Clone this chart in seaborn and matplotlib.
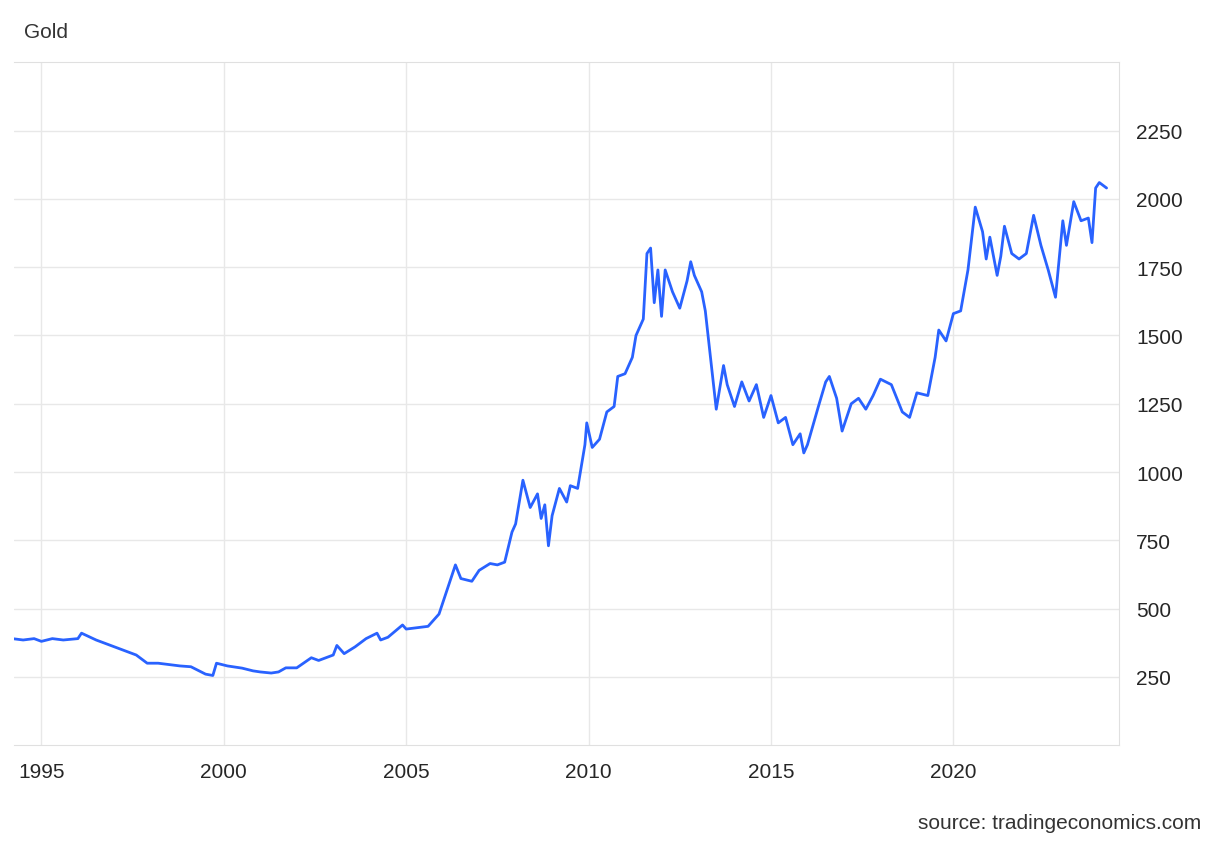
import numpy as np
import pandas as pd
import matplotlib
matplotlib.use("Agg")
import matplotlib.pyplot as plt
import seaborn as sns

# decimal year and gold price (USD/oz)
years = [1994.2, 1994.5, 1994.8, 1995.0, 1995.3, 1995.6, 1996.0, 1996.1, 1996.5, 1997.0,
         1997.3, 1997.6, 1997.9, 1998.2, 1998.5, 1998.8, 1999.1, 1999.5, 1999.7, 1999.8,
         2000.1, 2000.5, 2000.8, 2001.0, 2001.3, 2001.5, 2001.7, 2002.0, 2002.4, 2002.6,
         2003.0, 2003.1, 2003.3, 2003.6, 2003.9, 2004.2, 2004.3, 2004.5, 2004.9, 2005.0,
         2005.3, 2005.6, 2005.9, 2006.1, 2006.35, 2006.5, 2006.8, 2007.0, 2007.3, 2007.5,
         2007.7, 2007.9, 2008.0, 2008.2, 2008.4, 2008.6, 2008.7, 2008.8, 2008.9, 2009.0,
         2009.2, 2009.4, 2009.5, 2009.7, 2009.9, 2009.95, 2010.1, 2010.3, 2010.5, 2010.7,
         2010.8, 2011.0, 2011.2, 2011.3, 2011.5, 2011.6, 2011.7, 2011.8, 2011.9, 2012.0,
         2012.1, 2012.3, 2012.5, 2012.7, 2012.8, 2012.9, 2013.1, 2013.2, 2013.3, 2013.5,
         2013.7, 2013.8, 2014.0, 2014.2, 2014.4, 2014.6, 2014.8, 2015.0, 2015.2, 2015.4,
         2015.6, 2015.8, 2015.9, 2016.0, 2016.3, 2016.5, 2016.6, 2016.8, 2016.95, 2017.2,
         2017.4, 2017.6, 2017.8, 2018.0, 2018.3, 2018.6, 2018.8, 2019.0, 2019.3, 2019.5,
         2019.6, 2019.8, 2020.0, 2020.2, 2020.4, 2020.6, 2020.8, 2020.9, 2021.0, 2021.2,
         2021.3, 2021.4, 2021.6, 2021.8, 2022.0, 2022.2, 2022.4, 2022.6, 2022.8, 2022.9,
         2023.0, 2023.1, 2023.3, 2023.5, 2023.7, 2023.8, 2023.9, 2024.0, 2024.2]
prices = [390, 385, 390, 380, 390, 385, 390, 410, 385, 360,
          345, 330, 300, 300, 295, 290, 287, 260, 255, 300,
          290, 282, 272, 268, 264, 268, 283, 283, 320, 310,
          330, 365, 335, 360, 390, 410, 385, 395, 440, 425,
          430, 435, 480, 560, 660, 610, 600, 640, 665, 660,
          670, 780, 810, 970, 870, 920, 830, 880, 730, 840,
          940, 890, 950, 940, 1100, 1180, 1090, 1120, 1220, 1240,
          1350, 1360, 1420, 1500, 1560, 1800, 1820, 1620, 1740, 1570,
          1740, 1660, 1600, 1700, 1770, 1720, 1660, 1590, 1470, 1230,
          1390, 1320, 1240, 1330, 1260, 1320, 1200, 1280, 1180, 1200,
          1100, 1140, 1070, 1100, 1240, 1330, 1350, 1270, 1150, 1250,
          1270, 1230, 1280, 1340, 1320, 1220, 1200, 1290, 1280, 1420,
          1520, 1480, 1580, 1590, 1740, 1970, 1880, 1780, 1860, 1720,
          1790, 1900, 1800, 1780, 1800, 1940, 1830, 1740, 1640, 1780,
          1920, 1830, 1990, 1920, 1930, 1840, 2040, 2060, 2040]

y_ticks = [250, 500, 750, 1000, 1250, 1500, 1750, 2000, 2250]
x_ticks = [1995, 2000, 2005, 2010, 2015, 2020]

df = pd.DataFrame({"year": years, "price": prices})

sns.set_style("white")
plt.rcParams["font.family"] = ["Liberation Sans", "DejaVu Sans"]

fig = plt.figure(figsize=(12.2, 8.45), dpi=100)
ax = fig.add_axes([0.0115, 0.117, 0.906, 0.808])
sns.lineplot(data=df, x="year", y="price", ax=ax, color="#2962ff", linewidth=2)

ax.set_xlim(1994.25, 2024.55)
ax.set_ylim(0, 2500)
ax.set_xticks(x_ticks)
ax.set_yticks(y_ticks)
ax.yaxis.tick_right()
ax.grid(True, color="#e8e8e8", linewidth=1)
ax.tick_params(length=0, labelsize=15, pad=12)
ax.set_xlabel("")
ax.set_ylabel("")
ax.spines["left"].set_visible(False)
for side in ["top", "right", "bottom"]:
    ax.spines[side].set_color("#e0e0e0")

fig.text(0.02, 0.962, "Gold", fontsize=15, color="#333333", va="center")
fig.text(0.985, 0.025, "source: tradingeconomics.com", fontsize=15, color="#333333",
         ha="right", va="center")

fig.savefig("out.png", dpi=100)
